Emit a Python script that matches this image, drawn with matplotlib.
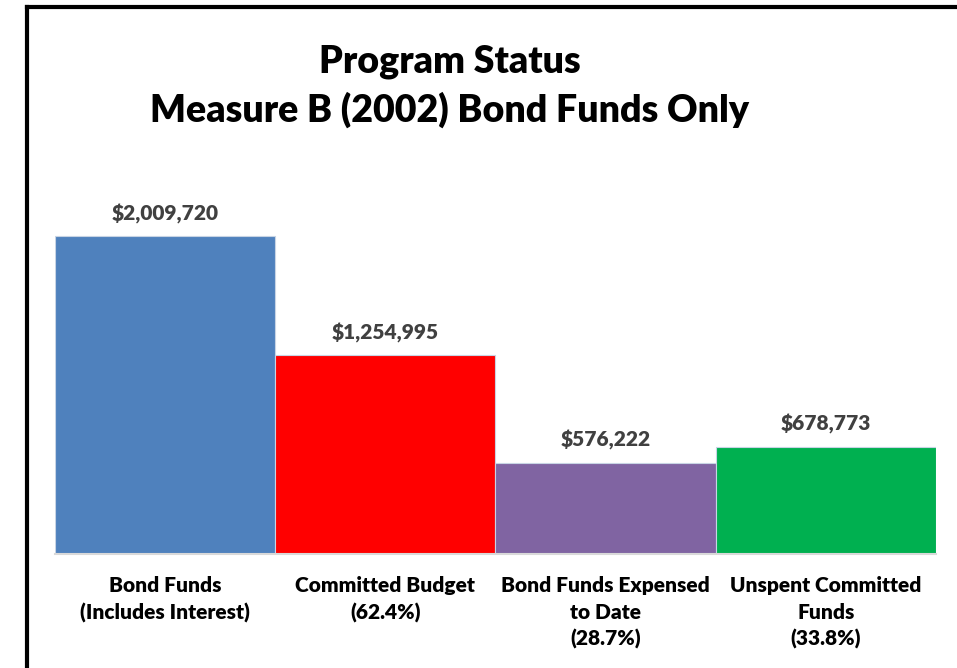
import matplotlib.pyplot as plt
from matplotlib.lines import Line2D

categories = ["Bond Funds\n(Includes Interest)", "Committed Budget\n(62.4%)",
              "Bond Funds Expensed\nto Date\n(28.7%)", "Unspent Committed\nFunds\n(33.8%)"]
values = [2009720, 1254995, 576222, 678773]
colors = ["#4F81BD", "#FF0000", "#8064A2", "#00B050"]

plt.rcParams['font.family'] = ['Lato', 'DejaVu Sans']

fig = plt.figure(figsize=(9.57, 6.68), dpi=100)
ax = fig.add_axes([0.0575, 0.1707, 0.9205, 0.5748])

x = range(len(values))
ax.bar(x, values, width=1.0, color=colors, edgecolor="#c8d4e4", linewidth=0.8)
ax.set_xlim(-0.5, 3.5)
ax.set_ylim(0, 2427000)

for i, v in enumerate(values):
    ax.annotate("${:,}".format(v), (i, v), xytext=(0, 9), textcoords="offset points",
                ha="center", va="bottom", fontsize=15, fontweight="heavy", color="#404040")

ax.set_xticks(list(x))
ax.set_xticklabels(categories, fontsize=15, fontweight="heavy", linespacing=1.46, va="top")
ax.tick_params(axis="x", length=0, pad=16)
ax.set_yticks([])
for s in ["top", "right", "left"]:
    ax.spines[s].set_visible(False)
ax.spines["bottom"].set_color("#d9d9d9")
ax.spines["bottom"].set_linewidth(1.5)

fig.text(0.470, 0.908, "Program Status", ha="center", va="center",
         fontsize=27, fontweight="heavy")
fig.text(0.470, 0.835, "Measure B (2002) Bond Funds Only", ha="center", va="center",
         fontsize=27, fontweight="heavy")

# outer frame (left and top edges visible)
fig.add_artist(Line2D([0.0285, 0.0285], [0.0, 0.9895], transform=fig.transFigure,
                      color="black", linewidth=3))
fig.add_artist(Line2D([0.0285, 1.0], [0.9895, 0.9895], transform=fig.transFigure,
                      color="black", linewidth=3))

fig.savefig("out.png", dpi=100)
